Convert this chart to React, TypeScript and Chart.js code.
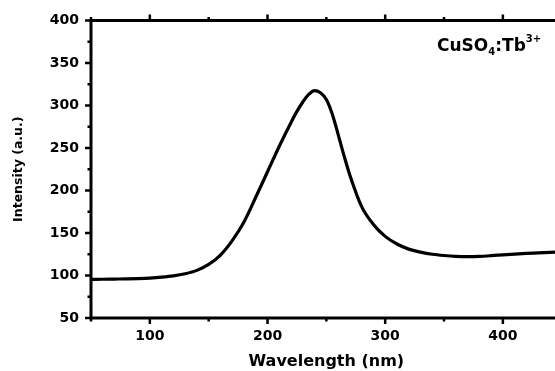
import React, { useEffect, useRef } from "react";
import { Chart, registerables } from "chart.js";

Chart.register(...registerables);

// Excitation spectrum
const wavelengths = [
  50, 60, 70, 80, 90, 100, 110, 120, 130, 140, 150, 160, 170, 180, 190, 200,
  210, 220, 225, 230, 235, 240, 245, 250, 255, 260, 265, 270, 280, 290, 300,
  310, 320, 330, 340, 350, 360, 370, 380, 390, 400, 410, 420, 430, 440, 450,
];
const intensity = [
  95.5, 95.6, 95.8, 96.0, 96.4, 97.0, 98.0, 99.5, 102, 106, 113, 124, 141, 163,
  192, 222, 252, 280, 293, 304, 313, 317.5, 315, 307, 290, 266, 241, 218, 181,
  160, 146, 137, 131, 127.5, 125, 123.5, 122.5, 122.2, 122.5, 123.3, 124.3,
  125.2, 126, 126.6, 127.2, 127.8,
];

const xMajorTicks = [100, 200, 300, 400];
const xMinorTicks = [50, 150, 250, 350, 450];
const yMajorTicks = [50, 100, 150, 200, 250, 300, 350, 400];
const yMinorTicks = [75, 125, 175, 225, 275, 325, 375];

const xTitle = "Wavelength (nm)";
const yTitle = "Intensity (a.u.)";
const sampleMain1 = "CuSO";
const sampleSub = "4";
const sampleMain2 = ":Tb";
const sampleSup = "3+";

const FONT = "'DejaVu Sans', sans-serif";

const framePlugin = {
  id: "frame",
  afterDatasetsDraw(chart: any) {
    const { ctx, chartArea, scales } = chart;
    const { left, top, bottom, right } = chartArea;
    const x = scales.x;
    const y = scales.y;
    ctx.save();
    ctx.strokeStyle = "#000";
    ctx.lineCap = "butt";
    ctx.lineWidth = 3;
    ctx.beginPath();
    ctx.moveTo(left - 1.5, bottom);
    ctx.lineTo(right, bottom);
    ctx.moveTo(left - 1.5, top);
    ctx.lineTo(right, top);
    ctx.moveTo(left, top - 1.5);
    ctx.lineTo(left, bottom + 1.5);
    ctx.stroke();

    ctx.lineWidth = 2.5;
    ctx.beginPath();
    for (const v of xMajorTicks) {
      const p = x.getPixelForValue(v);
      ctx.moveTo(p, bottom);
      ctx.lineTo(p, bottom + 6);
      ctx.moveTo(p, top);
      ctx.lineTo(p, top - 6);
    }
    for (const v of xMinorTicks) {
      const p = x.getPixelForValue(v);
      ctx.moveTo(p, bottom);
      ctx.lineTo(p, bottom + 3.5);
      ctx.moveTo(p, top);
      ctx.lineTo(p, top - 3.5);
    }
    for (const v of yMajorTicks) {
      const p = y.getPixelForValue(v);
      ctx.moveTo(left, p);
      ctx.lineTo(left - 6, p);
    }
    for (const v of yMinorTicks) {
      const p = y.getPixelForValue(v);
      ctx.moveTo(left, p);
      ctx.lineTo(left - 3.5, p);
    }
    ctx.stroke();

    // sample label
    ctx.fillStyle = "#000";
    ctx.textBaseline = "alphabetic";
    ctx.textAlign = "left";
    let tx = left + 346;
    const ty = top + 31;
    ctx.font = `bold 17px ${FONT}`;
    ctx.fillText(sampleMain1, tx, ty);
    tx += ctx.measureText(sampleMain1).width;
    ctx.font = `bold 10px ${FONT}`;
    ctx.fillText(sampleSub, tx, ty + 4);
    tx += ctx.measureText(sampleSub).width;
    ctx.font = `bold 17px ${FONT}`;
    ctx.fillText(sampleMain2, tx, ty);
    tx += ctx.measureText(sampleMain2).width;
    ctx.font = `bold 10px ${FONT}`;
    ctx.fillText(sampleSup, tx, ty - 9);
    ctx.restore();
  },
};

export default function App() {
  const canvasRef = useRef<HTMLCanvasElement | null>(null);

  useEffect(() => {
    const canvas = canvasRef.current;
    if (!canvas) return;
    const chart = new Chart(canvas, {
      type: "line",
      data: {
        datasets: [
          {
            data: wavelengths.map((w, i) => ({ x: w, y: intensity[i] })),
            borderColor: "#000",
            borderWidth: 3.2,
            pointRadius: 0,
            fill: false,
            cubicInterpolationMode: "monotone",
          },
        ],
      },
      options: {
        responsive: false,
        animation: false,
        devicePixelRatio: 1,
        layout: { padding: { left: 0, top: 17, right: 18.3, bottom: 0 } },
        plugins: {
          legend: { display: false },
          tooltip: { enabled: false },
        },
        scales: {
          x: {
            type: "linear",
            min: 50,
            max: 450,
            afterBuildTicks: (s: any) => {
              s.ticks = xMajorTicks.map((v) => ({ value: v }));
            },
            afterFit: (s: any) => {
              s.height = 53;
            },
            grid: { display: false, drawTicks: false },
            border: { display: false },
            ticks: {
              color: "#000",
              padding: 10,
              maxRotation: 0,
              autoSkip: false,
              font: { family: FONT, weight: "bold", size: 14 },
            },
            title: {
              display: true,
              text: xTitle,
              color: "#000",
              font: { family: FONT, weight: "bold", size: 16 },
              padding: { top: 0, bottom: 0 },
            },
          },
          y: {
            type: "linear",
            min: 50,
            max: 400,
            afterBuildTicks: (s: any) => {
              s.ticks = yMajorTicks.map((v) => ({ value: v }));
            },
            afterFit: (s: any) => {
              s.width = 91;
            },
            grid: { display: false, drawTicks: false },
            border: { display: false },
            ticks: {
              color: "#000",
              padding: 12,
              autoSkip: false,
              font: { family: FONT, weight: "bold", size: 14 },
            },
            title: {
              display: true,
              text: yTitle,
              color: "#000",
              font: { family: FONT, weight: "bold", size: 12.5 },
              padding: { top: 11, bottom: 0 },
            },
          },
        },
      },
      plugins: [framePlugin],
    } as any);
    return () => chart.destroy();
  }, []);

  return (
    <div
      style={{
        position: "fixed",
        left: 0,
        top: 0,
        width: 555,
        height: 371,
        overflow: "hidden",
        background: "#fff",
      }}
    >
      <canvas
        ref={canvasRef}
        width={580}
        height={371}
        style={{ display: "block" }}
      />
    </div>
  );
}
